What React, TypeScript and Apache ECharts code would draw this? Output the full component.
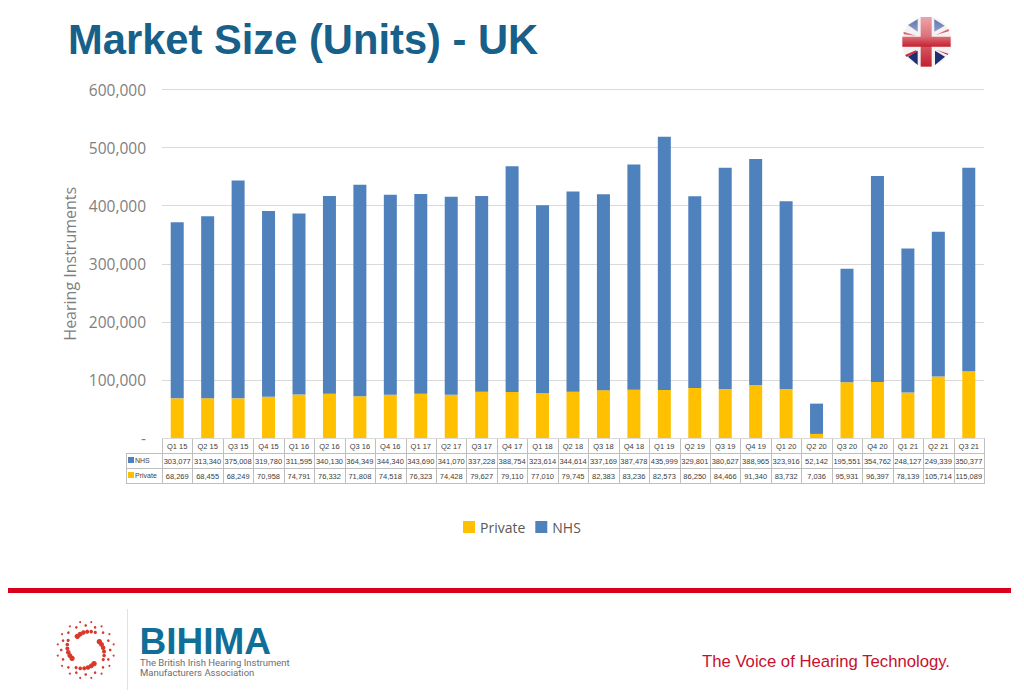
import React, { useEffect, useRef } from "react";
import * as echarts from "echarts";

const quarters = ["Q1 15","Q2 15","Q3 15","Q4 15","Q1 16","Q2 16","Q3 16","Q4 16","Q1 17","Q2 17","Q3 17","Q4 17","Q1 18","Q2 18","Q3 18","Q4 18","Q1 19","Q2 19","Q3 19","Q4 19","Q1 20","Q2 20","Q3 20","Q4 20","Q1 21","Q2 21","Q3 21"];
const nhs = [303077,313340,375008,319780,311595,340130,364349,344340,343690,341070,337228,388754,323614,344614,337169,387478,435999,329801,380627,388965,323916,52142,195551,354762,248127,249339,350377];
const privateUnits = [68269,68455,68249,70958,74791,76332,71808,74518,76323,74428,79627,79110,77010,79745,82383,83236,82573,86250,84466,91340,83732,7036,95931,96397,78139,105714,115089];

const BLUE = "#4f81bd";
const GOLD = "#ffc000";
const GL = 162, GR = 984, GT = 89.5, GB = 438;
const fmt = (v: number) => v.toLocaleString("en-GB");

// flag drawn in a 3x space, origin (880,5)
const fp = (pts: number[][]) => pts.map(([x, y]) => [880 + x / 3, 5 + y / 3]);
const poly = (pts: number[][], fill: any) => ({ type: "polygon", shape: { points: fp(pts) }, style: { fill }, silent: true });
const vGrad = (a: string, b: string) => ({ type: "linear", x: 0, y: 0, x2: 0, y2: 1, colorStops: [{ offset: 0, color: a }, { offset: 1, color: b }] });

function flag(): any[] {
  return [
    { type: "circle", shape: { cx: 926.7, cy: 41.7, r: 25 }, style: { fill: "#f4f1f3" }, silent: true },
    poly([[84,60],[113,43],[113,80]], vGrad("#5f75ad", "#8ea0cc")),
    poly([[163,43],[194,62],[163,80]], vGrad("#5f75ad", "#8ea0cc")),
    poly([[84,155],[113,137],[113,180]], "#1f2f74"),
    poly([[165,137],[195,155],[165,180]], "#1f2f74"),
    poly([[70,80],[108,92],[72,88]], "#d8646f"),
    poly([[168,90],[205,72],[208,78]], "#d8646f"),
    poly([[75,150],[108,136],[112,140],[80,156]], "#c9303c"),
    poly([[170,135],[205,146],[203,150]], "#c9303c"),
    poly([[122,36],[155,36],[155,185],[122,185]], vGrad("#eba4aa", "#c4202e")),
    poly([[67,95],[212,95],[212,125],[67,125]], vGrad("#dd6c76", "#c4202e")),
  ];
}

function logoDots(): any[] {
  const out: any[] = [];
  const cx = 85.7, cy = 650;
  const red = "#d8392b";
  for (let k = 0; k < 4; k++) {
    const a0 = (k * Math.PI) / 2 - 0.55;
    for (let i = 0; i < 6; i++) {
      const a = a0 + i * 0.21;
      const r = 16 + i * 0.8;
      out.push({ type: "circle", silent: true, shape: { cx: cx + r * Math.cos(a), cy: cy + r * Math.sin(a), r: 2.7 - i * 0.22 }, style: { fill: red } });
    }
  }
  for (let i = 0; i < 32; i++) {
    const a = (i * 2 * Math.PI) / 32;
    const r = i % 2 ? 28.5 : 24.5;
    out.push({ type: "circle", silent: true, shape: { cx: cx + r * Math.cos(a), cy: cy + r * Math.sin(a), r: i % 2 ? 1 : 1.3 }, style: { fill: red } });
  }
  return out;
}

function tableLines(): any[] {
  const stroke = "#bfbfbf";
  const line = (x1: number, y1: number, x2: number, y2: number) => ({ type: "line", silent: true, shape: { x1, y1, x2, y2 }, style: { stroke, lineWidth: 1 } });
  const out: any[] = [line(GL, 438.5, GR, 438.5), line(126, 453.5, GR, 453.5), line(126, 468.5, GR, 468.5), line(126, 483.5, GR, 483.5), line(126.5, 453, 126.5, 484)];
  const w = (GR - GL) / quarters.length;
  for (let i = 0; i <= quarters.length; i++) {
    const x = Math.round(GL + i * w) + 0.5;
    out.push(line(x, 438, x, 484));
  }
  return out;
}

function buildOption(): any {
  const tableAxis = (data: string[], offset: number) => ({
    type: "category", data, position: "bottom", offset, gridIndex: 0,
    axisLine: { show: false }, axisTick: { show: false },
    axisLabel: { interval: 0, hideOverlap: false, margin: 4, fontSize: 7.5, color: "#404040", fontFamily: "Liberation Sans" },
  });
  return {
    animation: false,
    backgroundColor: "#ffffff",
    grid: { left: GL, right: 1024 - GR, top: GT, height: GB - GT, containLabel: false },
    legend: {
      data: ["Private", "NHS"], left: 458, top: 515, itemWidth: 12, itemHeight: 12, itemGap: 10,
      icon: "rect", textStyle: { color: "#595959", fontSize: 14, fontFamily: "Open Sans" },
    },
    xAxis: [
      tableAxis(quarters, 0),
      tableAxis(nhs.map(fmt), 15),
      tableAxis(privateUnits.map(fmt), 30),
    ],
    yAxis: {
      type: "value", min: 0, max: 600000, interval: 100000,
      name: "Hearing Instruments", nameLocation: "middle", nameGap: 84, nameRotate: 90,
      nameTextStyle: { color: "#7f7f7f", fontSize: 16, fontFamily: "Open Sans" },
      axisLine: { show: false }, axisTick: { show: false },
      axisLabel: {
        margin: 16, fontSize: 15.5, color: "#7f7f7f", fontFamily: "Open Sans",
        formatter: (v: number) => (v === 0 ? "-" : fmt(v)),
      },
      splitLine: { lineStyle: { color: "#d9d9d9", width: 1 } },
    },
    series: [
      { name: "Private", type: "bar", stack: "u", data: privateUnits, barWidth: 13, itemStyle: { color: GOLD }, xAxisIndex: 0 },
      { name: "NHS", type: "bar", stack: "u", data: nhs, barWidth: 13, itemStyle: { color: BLUE }, xAxisIndex: 0 },
    ],
    graphic: [
      { type: "text", silent: true, x: 68, y: 18, style: { text: "Market Size (Units) - UK", font: "bold 41.7px 'Liberation Sans'", fill: "#17608a" } },
      ...flag(),
      ...tableLines(),
      { type: "rect", silent: true, shape: { x: 128, y: 457, width: 6, height: 6 }, style: { fill: BLUE } },
      { type: "text", silent: true, x: 135, y: 456.5, style: { text: "NHS", font: "7px 'Liberation Sans'", fill: "#404040" } },
      { type: "rect", silent: true, shape: { x: 128, y: 472, width: 6, height: 6 }, style: { fill: GOLD } },
      { type: "text", silent: true, x: 135, y: 471.5, style: { text: "Private", font: "7px 'Liberation Sans'", fill: "#404040" } },
      { type: "rect", silent: true, shape: { x: 8, y: 588, width: 1003, height: 5 }, style: { fill: "#d9001b" } },
      ...logoDots(),
      { type: "line", silent: true, shape: { x1: 127.5, y1: 609, x2: 127.5, y2: 690 }, style: { stroke: "#e2e2e2", lineWidth: 1 } },
      { type: "text", silent: true, x: 139.5, y: 627, style: { text: "BIHIMA", font: "bold 37px 'Liberation Sans'", lineHeight: 28, fill: "#0f6f98" } },
      { type: "text", silent: true, x: 140, y: 657, style: { text: "The British Irish Hearing Instrument", font: "9.5px Roboto", lineHeight: 10, fill: "#6d6e71" } },
      { type: "text", silent: true, x: 140, y: 667, style: { text: "Manufacturers Association", font: "9.5px Roboto", lineHeight: 10, fill: "#6d6e71" } },
      { type: "text", silent: true, x: 702, y: 652.5, style: { text: "The Voice of Hearing Technology.", font: "16.7px 'Liberation Sans'", fill: "#c8102e" } },
    ],
  };
}

export default function App() {
  const ref = useRef<HTMLDivElement>(null);
  useEffect(() => {
    const chart = echarts.init(ref.current!, undefined, { renderer: "svg" });
    chart.setOption(buildOption());
    return () => chart.dispose();
  }, []);
  return <div ref={ref} style={{ position: "fixed", left: 0, top: 0, width: 1024, height: 698 }} />;
}
